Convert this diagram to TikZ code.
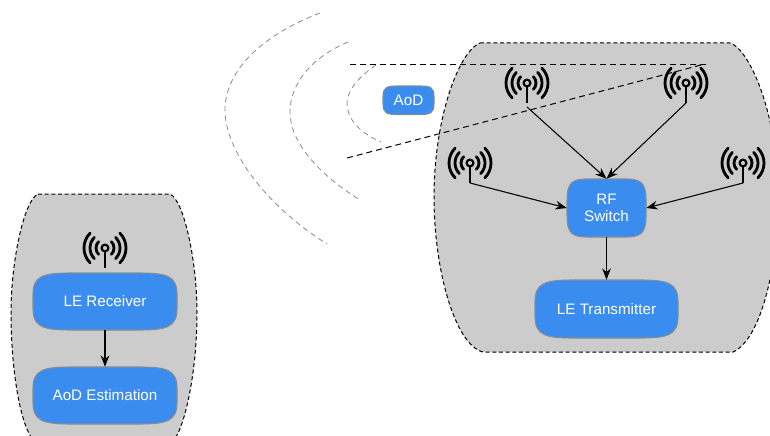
\documentclass[tikz,border=0pt]{standalone}
\usepackage{fontspec}
\setmainfont{Liberation Sans}
\usetikzlibrary{arrows.meta}
\definecolor{blobblue}{HTML}{3A8DEE}
\definecolor{regiongray}{HTML}{CCCCCC}
\definecolor{waveline}{HTML}{8A8A8A}
\definecolor{blobedge}{HTML}{808C98}
\tikzset{
  region/.style={fill=regiongray,draw=black,line width=0.75pt,dash pattern=on 3pt off 2pt},
  wave/.style={draw=waveline,line width=0.6pt,dash pattern=on 4pt off 3pt},
  sector/.style={draw=black,line width=0.75pt,dash pattern=on 4.5pt off 3pt},
  link/.style={draw=black,line width=0.8pt,-{Stealth[length=8.5pt,width=6.5pt]}},
  blobshape/.style={fill=blobblue,draw=blobedge,line width=0.8pt},
  blobtext/.style={text=white,font=\fontsize{11.4pt}{13pt}\selectfont,align=center,inner sep=0pt,rectangle},
  antenna/.pic={
    \draw[line width=1.6pt] (0,0) circle[radius=3.4];
    \draw[line width=2.2pt] (0,3.4) -- (0,20);
    \foreach \r in {9,15,21}{
      \draw[line width=2.1pt,line cap=round] (-45:\r) arc[start angle=-45,end angle=45,radius=\r];
      \draw[line width=2.1pt,line cap=round] (-135:\r) arc[start angle=-135,end angle=-225,radius=\r];
    }
    \coordinate (-foot) at (0,20);
    \coordinate (-gap) at (0,24);
  }
}
\newcommand{\blobbox}[6]{%
  \pgfmathsetmacro{\bw}{#4-#2}\pgfmathsetmacro{\bh}{#5-#3}%
  \pgfmathsetmacro{\ka}{#2+0.27*\bw}\pgfmathsetmacro{\kb}{#4-0.27*\bw}%
  \pgfmathsetmacro{\kc}{#3+0.38*\bh}\pgfmathsetmacro{\kd}{#5-0.38*\bh}%
  \pgfmathsetmacro{\ke}{#2+0.07*\bw}\pgfmathsetmacro{\kf}{#4-0.07*\bw}%
  \pgfmathsetmacro{\kg}{#3+0.05*\bh}\pgfmathsetmacro{\kh}{#5-0.05*\bh}%
  \path[blobshape] (#2,\kc) .. controls (#2,\kg) and (\ke,#3) .. (\ka,#3) -- (\kb,#3)
    .. controls (\kf,#3) and (#4,\kg) .. (#4,\kc) -- (#4,\kd)
    .. controls (#4,\kh) and (\kf,#5) .. (\kb,#5) -- (\ka,#5)
    .. controls (\ke,#5) and (#2,\kh) .. (#2,\kd) -- cycle;
  \node[blobtext,minimum width=\bw*0.75pt,minimum height=\bh*0.75pt] (#1) at ({(#2+#4)/2},{(#3+#5)/2}) {#6};%
}
\begin{document}
\begin{tikzpicture}[x=0.75pt,y=-0.75pt]
\useasboundingbox (0,0) rectangle (770,435);
\clip (0,0) rectangle (770,435);
% regions
\path[region] (38,194) -- (170,194) .. controls (184,200) and (197,262) .. (197,312)
  .. controls (197,370) and (186,420) .. (176,437) -- (31,437)
  .. controls (20,420) and (11,370) .. (11,312) .. controls (11,262) and (24,200) .. (38,194) -- cycle;
\path[region] (480,43) -- (730,43) .. controls (748,48) and (778,110) .. (778,197)
  .. controls (778,270) and (760,340) .. (733,352) -- (483,352)
  .. controls (455,345) and (434,270) .. (434,197) .. controls (434,120) and (458,52) .. (480,43) -- cycle;
% waves
\path[wave] (320,13) .. controls (255,38) and (225,75) .. (225,110) .. controls (225,150) and (265,205) .. (327,244);
\path[wave] (348,42) .. controls (310,58) and (290,85) .. (290,112) .. controls (290,140) and (315,172) .. (360,200);
\path[wave] (376,65) .. controls (357,78) and (347,92) .. (347,103) .. controls (347,118) and (358,132) .. (381,142);
% sector
\coordinate (secA) at (350,64.5);
\coordinate (secB) at (708,64.5);
\coordinate (secC) at (347,158);
\coordinate (secD) at (701,65);
\path[sector] (secA) -- (secB);
\path[sector] (secC) -- (secD);
% blue boxes
\blobbox{aod}{383}{86}{434}{114.5}{AoD}
\blobbox{rf}{567}{179}{646}{237}{RF\\Switch}
\blobbox{tx}{535}{280}{678}{338}{LE Transmitter}
\blobbox{rx}{33}{273}{177}{330}{LE Receiver}
\blobbox{est}{33}{367}{177}{424}{AoD Estimation}
% antennas
\pic (a1) at (527,83) {antenna};
\pic (a2) at (686,83) {antenna};
\pic (a3) at (470,163) {antenna};
\pic (a4) at (743,163) {antenna};
\pic (a5) at (105,248) {antenna};
% links
\draw[link] (a1-gap) -- (rf.north);
\draw[link] (a2-foot) -- (rf.north);
\draw[link] (a3-foot) -- (rf.west);
\draw[link] (a4-foot) -- (rf.east);
\draw[link] (rf) ++(0,29) -- (tx.north);
\draw[link] (rx.south) -- (est.north);
\end{tikzpicture}
\end{document}
